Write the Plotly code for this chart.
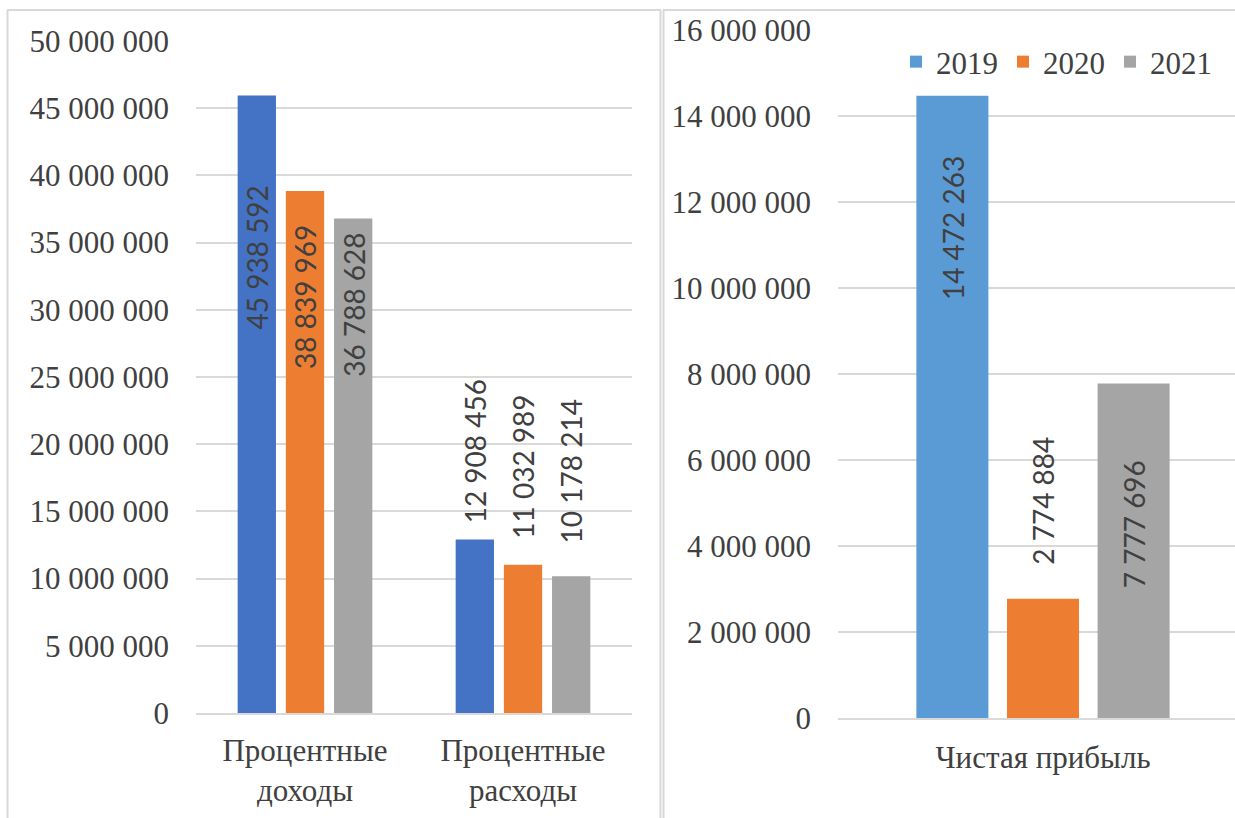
import plotly.graph_objects as go

# ---- data ----
years = ["2019", "2020", "2021"]
categories_left = ["Процентные доходы", "Процентные расходы"]
values_left = {
    "2019": [45938592, 12908456],
    "2020": [38839969, 11032989],
    "2021": [36788628, 10178214],
}
category_right = ["Чистая прибыль"]
values_right = {
    "2019": [14472263],
    "2020": [2774884],
    "2021": [7777696],
}

# ---- styles ----
colors_left = ["#4472C4", "#ED7D31", "#A5A5A5"]
colors_right = ["#5B9BD5", "#ED7D31", "#A5A5A5"]
grid_color = "#D9D9D9"
text_color = "#404040"
axis_font = dict(family="Times New Roman, Liberation Serif, serif", size=31, color=text_color)
label_font = dict(family="Lato", size=28, color=text_color)
BARGAP = 0.337
BARGROUPGAP = 0.205

W, H = 1235, 818

# label vertical offsets (px) from the bar top to the label centre
shift_left = {
    "2019": [-162, 88],
    "2020": [-106, 98],
    "2021": [-86, 105],
}
shift_right = {"2019": [-132], "2020": [98], "2021": [-141]}


def fmt(v):
    return f"{v:,}".replace(",", " ")


fig = go.Figure()

for i, y in enumerate(years):
    fig.add_trace(go.Bar(
        x=categories_left, y=values_left[y], name=y,
        marker=dict(color=colors_left[i], line=dict(width=0)),
        xaxis="x", yaxis="y", showlegend=False,
    ))
for i, y in enumerate(years):
    fig.add_trace(go.Bar(
        x=category_right, y=values_right[y], name=y,
        marker=dict(color=colors_right[i], line=dict(width=0)),
        xaxis="x2", yaxis="y2", showlegend=True,
    ))

# rotated value labels, placed at each bar's own x position
slot = (1 - BARGAP) / len(years)
annotations = []
for i, y in enumerate(years):
    for c, v in enumerate(values_left[y]):
        annotations.append(dict(
            x=c + (i - 1) * slot, y=v, xref="x", yref="y",
            text=fmt(v), textangle=-90, showarrow=False,
            yanchor="middle", xanchor="center", yshift=shift_left[y][c],
            font=label_font,
        ))
    for c, v in enumerate(values_right[y]):
        annotations.append(dict(
            x=c + (i - 1) * slot, y=v, xref="x2", yref="y2",
            text=fmt(v), textangle=-90, showarrow=False,
            yanchor="middle", xanchor="center", yshift=shift_right[y][c],
            font=label_font,
        ))

# panel frames
def line(x0, y0, x1, y1):
    return dict(type="line", xref="paper", yref="paper",
                x0=x0 / W, y0=1 - y0 / H, x1=x1 / W, y1=1 - y1 / H,
                line=dict(color=grid_color, width=2))

shapes = [
    line(7.5, 10, 7.5, H), line(7, 10, 661, 10), line(660.5, 10, 660.5, H),
    line(663.5, 10, 663.5, H), line(663, 10, W, 10),
]

common_y = dict(
    showgrid=True, gridcolor=grid_color, gridwidth=1.5,
    zeroline=False, showline=False, ticks="", automargin=False,
    tickformat=",d", tickfont=axis_font, ticklabelstandoff=26,
)
common_x = dict(
    showgrid=False, zeroline=False, showline=True, linecolor=grid_color,
    linewidth=1.5, ticks="", tickfont=axis_font, automargin=False,
)

fig.update_layout(
    width=W, height=H,
    margin=dict(l=0, r=0, t=0, b=0, autoexpand=False),
    paper_bgcolor="white", plot_bgcolor="white",
    separators=". ",
    barmode="group", bargap=BARGAP, bargroupgap=BARGROUPGAP,
    xaxis=dict(domain=[196 / W, 632 / W], anchor="y",
               tickvals=categories_left,
               ticktext=[c.replace(" ", "<br>") for c in categories_left],
               ticklabelstandoff=9, **common_x),
    yaxis=dict(domain=[(H - 713) / H, (H - 41) / H], anchor="x",
               range=[0, 50000000], dtick=5000000, **common_y),
    xaxis2=dict(domain=[838 / W, 1.0], anchor="y2",
                range=[-0.5, 0.4683], ticklabelstandoff=11, **common_x),
    yaxis2=dict(domain=[(H - 718) / H, (H - 30) / H], anchor="x2",
                range=[0, 16000000], dtick=2000000, **common_y),
    legend=dict(orientation="h", x=896 / W, y=1 - 62 / H,
                xanchor="left", yanchor="middle",
                font=axis_font, bgcolor="rgba(0,0,0,0)",
                traceorder="normal"),
    annotations=annotations,
    shapes=shapes,
)

fig.write_html("out.html")
